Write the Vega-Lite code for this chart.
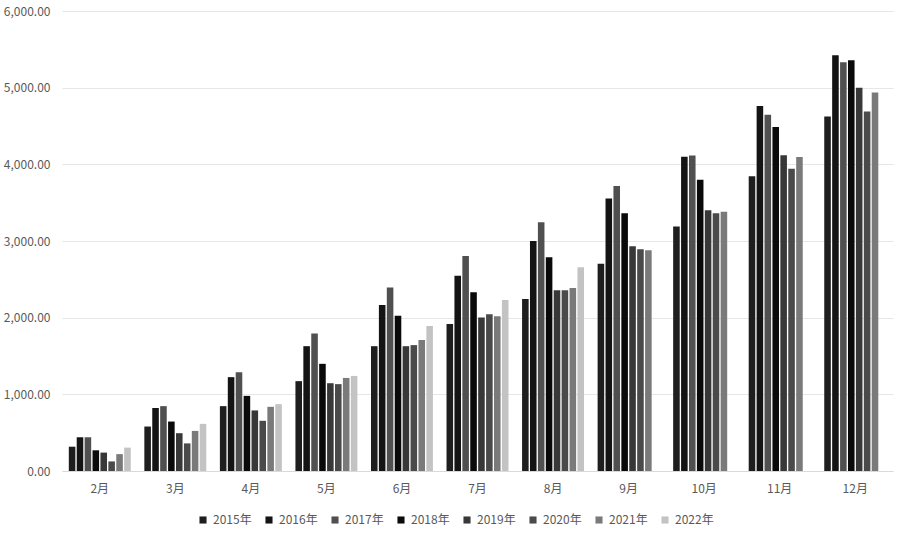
{
  "$schema": "https://vega.github.io/schema/vega-lite/v6.json",
  "width": 831,
  "height": 460,
  "autosize": {"type": "none"},
  "padding": {"left": 62, "top": 11, "right": 7, "bottom": 62},
  "background": "#ffffff",
  "config": {
    "view": {"stroke": null},
    "font": "Noto Sans CJK SC"
  },
  "data": {
    "values": [
      {"month": "2月", "year": "2015年", "value": 317},
      {"month": "2月", "year": "2016年", "value": 440},
      {"month": "2月", "year": "2017年", "value": 440},
      {"month": "2月", "year": "2018年", "value": 270},
      {"month": "2月", "year": "2019年", "value": 240},
      {"month": "2月", "year": "2020年", "value": 125},
      {"month": "2月", "year": "2021年", "value": 220},
      {"month": "2月", "year": "2022年", "value": 305},
      {"month": "3月", "year": "2015年", "value": 580},
      {"month": "3月", "year": "2016年", "value": 822},
      {"month": "3月", "year": "2017年", "value": 846},
      {"month": "3月", "year": "2018年", "value": 645},
      {"month": "3月", "year": "2019年", "value": 493},
      {"month": "3月", "year": "2020年", "value": 360},
      {"month": "3月", "year": "2021年", "value": 523},
      {"month": "3月", "year": "2022年", "value": 615},
      {"month": "4月", "year": "2015年", "value": 846},
      {"month": "4月", "year": "2016年", "value": 1224},
      {"month": "4月", "year": "2017年", "value": 1288},
      {"month": "4月", "year": "2018年", "value": 980},
      {"month": "4月", "year": "2019年", "value": 790},
      {"month": "4月", "year": "2020年", "value": 655},
      {"month": "4月", "year": "2021年", "value": 837},
      {"month": "4月", "year": "2022年", "value": 872},
      {"month": "5月", "year": "2015年", "value": 1172},
      {"month": "5月", "year": "2016年", "value": 1628},
      {"month": "5月", "year": "2017年", "value": 1792},
      {"month": "5月", "year": "2018年", "value": 1398},
      {"month": "5月", "year": "2019年", "value": 1145},
      {"month": "5月", "year": "2020年", "value": 1133},
      {"month": "5月", "year": "2021年", "value": 1214},
      {"month": "5月", "year": "2022年", "value": 1240},
      {"month": "6月", "year": "2015年", "value": 1628},
      {"month": "6月", "year": "2016年", "value": 2166},
      {"month": "6月", "year": "2017年", "value": 2392},
      {"month": "6月", "year": "2018年", "value": 2024},
      {"month": "6月", "year": "2019年", "value": 1628},
      {"month": "6月", "year": "2020年", "value": 1642},
      {"month": "6月", "year": "2021年", "value": 1710},
      {"month": "6月", "year": "2022年", "value": 1892},
      {"month": "7月", "year": "2015年", "value": 1918},
      {"month": "7月", "year": "2016年", "value": 2548},
      {"month": "7月", "year": "2017年", "value": 2805},
      {"month": "7月", "year": "2018年", "value": 2332},
      {"month": "7月", "year": "2019年", "value": 2002},
      {"month": "7月", "year": "2020年", "value": 2044},
      {"month": "7月", "year": "2021年", "value": 2020},
      {"month": "7月", "year": "2022年", "value": 2232},
      {"month": "8月", "year": "2015年", "value": 2245},
      {"month": "8月", "year": "2016年", "value": 3000},
      {"month": "8月", "year": "2017年", "value": 3245},
      {"month": "8月", "year": "2018年", "value": 2788},
      {"month": "8月", "year": "2019年", "value": 2358},
      {"month": "8月", "year": "2020年", "value": 2358},
      {"month": "8月", "year": "2021年", "value": 2388},
      {"month": "8月", "year": "2022年", "value": 2658},
      {"month": "9月", "year": "2015年", "value": 2702},
      {"month": "9月", "year": "2016年", "value": 3553},
      {"month": "9月", "year": "2017年", "value": 3718},
      {"month": "9月", "year": "2018年", "value": 3362},
      {"month": "9月", "year": "2019年", "value": 2932},
      {"month": "9月", "year": "2020年", "value": 2893},
      {"month": "9月", "year": "2021年", "value": 2880},
      {"month": "10月", "year": "2015年", "value": 3188},
      {"month": "10月", "year": "2016年", "value": 4100},
      {"month": "10月", "year": "2017年", "value": 4114},
      {"month": "10月", "year": "2018年", "value": 3800},
      {"month": "10月", "year": "2019年", "value": 3400},
      {"month": "10月", "year": "2020年", "value": 3362},
      {"month": "10月", "year": "2021年", "value": 3380},
      {"month": "11月", "year": "2015年", "value": 3844},
      {"month": "11月", "year": "2016年", "value": 4762},
      {"month": "11月", "year": "2017年", "value": 4646},
      {"month": "11月", "year": "2018年", "value": 4488},
      {"month": "11月", "year": "2019年", "value": 4118},
      {"month": "11月", "year": "2020年", "value": 3942},
      {"month": "11月", "year": "2021年", "value": 4097},
      {"month": "12月", "year": "2015年", "value": 4623},
      {"month": "12月", "year": "2016年", "value": 5422},
      {"month": "12月", "year": "2017年", "value": 5331},
      {"month": "12月", "year": "2018年", "value": 5358},
      {"month": "12月", "year": "2019年", "value": 5000},
      {"month": "12月", "year": "2020年", "value": 4688},
      {"month": "12月", "year": "2021年", "value": 4938}
    ]
  },
  "mark": {"type": "bar"},
  "encoding": {
    "x": {
      "field": "month",
      "type": "nominal",
      "sort": ["2月", "3月", "4月", "5月", "6月", "7月", "8月", "9月", "10月", "11月", "12月"],
      "scale": {"paddingInner": 0.18, "paddingOuter": 0.09},
      "axis": {
        "title": null,
        "labelAngle": 0,
        "labelFontSize": 12,
        "labelColor": "#595959",
        "labelPadding": 12,
        "ticks": false,
        "domain": true,
        "domainColor": "#d9d9d9",
        "grid": false
      }
    },
    "xOffset": {
      "field": "year",
      "type": "nominal",
      "scale": {
        "domain": ["2015年", "2016年", "2017年", "2018年", "2019年", "2020年", "2021年", "2022年"],
        "paddingInner": 0.17
      }
    },
    "y": {
      "field": "value",
      "type": "quantitative",
      "scale": {"domain": [0, 6000], "nice": false},
      "axis": {
        "title": null,
        "values": [0, 1000, 2000, 3000, 4000, 5000, 6000],
        "format": ",.2f",
        "labelFontSize": 12,
        "labelColor": "#595959",
        "labelPadding": 12,
        "ticks": false,
        "domain": false,
        "gridColor": "#e6e6e6",
        "gridWidth": 1
      }
    },
    "color": {
      "field": "year",
      "type": "nominal",
      "scale": {
        "domain": ["2015年", "2016年", "2017年", "2018年", "2019年", "2020年", "2021年", "2022年"],
        "range": ["#1e1e1e", "#141414", "#505050", "#0a0a0a", "#383838", "#4a4a4a", "#7a7a7a", "#c3c3c3"]
      },
      "legend": {
        "title": null,
        "orient": "none",
        "direction": "horizontal",
        "legendX": 135,
        "legendY": 503,
        "columns": 8,
        "symbolType": "square",
        "symbolSize": 50,
        "symbolStrokeWidth": 0,
        "symbolOffset": 0,
        "labelFontSize": 12,
        "labelColor": "#595959",
        "labelOffset": 4,
        "columnPadding": 11
      }
    }
  }
}
